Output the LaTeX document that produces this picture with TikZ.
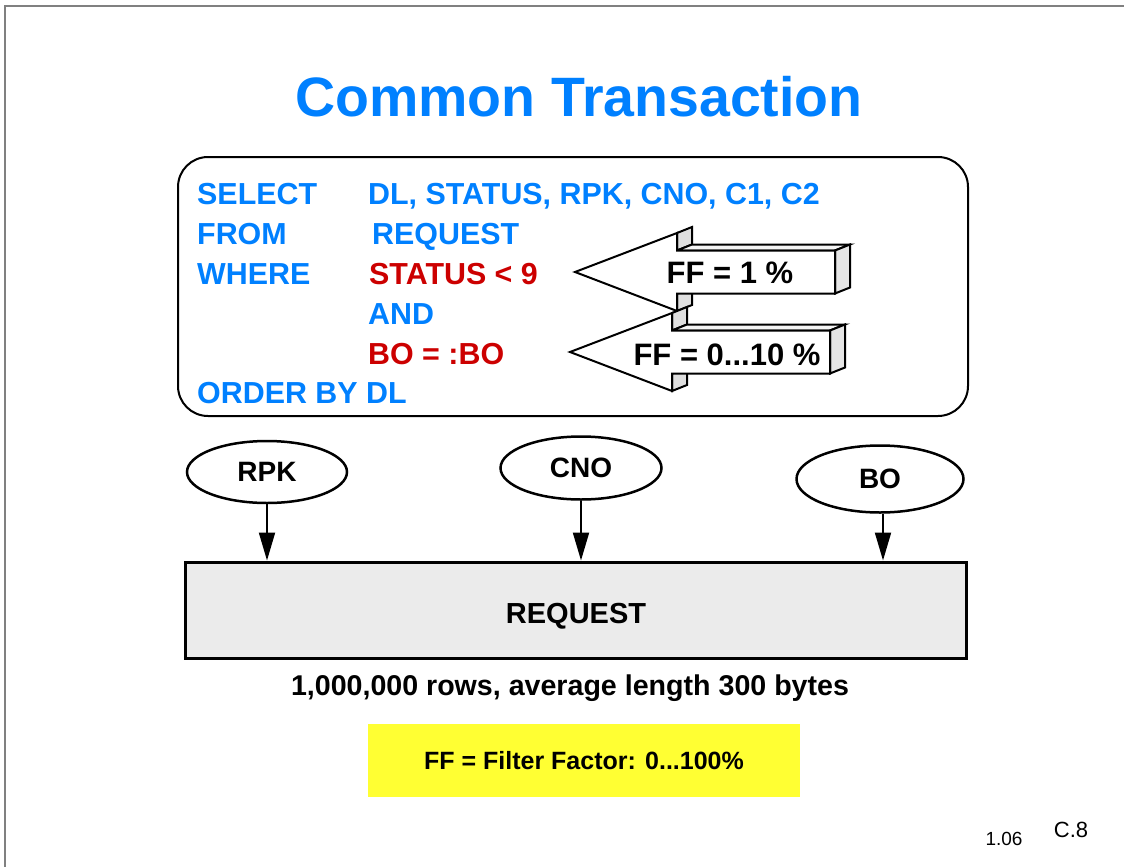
\documentclass[tikz,border=0pt]{standalone}
\usepackage{fontspec}
\setmainfont{Liberation Sans}
\usetikzlibrary{arrows.meta}
\usetikzlibrary{positioning}
\usetikzlibrary{shapes.geometric}

\definecolor{sqlblue}{RGB}{0,128,255}
\definecolor{sqlred}{RGB}{204,0,0}
\definecolor{tablegray}{RGB}{235,235,235}
\definecolor{notebg}{RGB}{255,255,51}

\tikzset{
  title/.style={text=sqlblue,font=\fontsize{55.5}{60}\selectfont\bfseries},
  sqlkw/.style={anchor=base west,inner sep=0pt,text=sqlblue,font=\fontsize{30.4}{34}\selectfont\bfseries},
  sqlcond/.style={sqlkw,text=sqlred},
  fflabel/.style={font=\fontsize{31}{34}\selectfont\bfseries},
  arrowface/.style={draw=black,line width=2pt,line join=miter},
  column/.style={ellipse,draw,line width=2.5pt,fill=white,inner sep=0pt,
    font=\fontsize{28}{30}\selectfont\bfseries},
  table/.style={draw,line width=3pt,fill=tablegray,inner sep=0pt,
    font=\fontsize{29}{32}\selectfont\bfseries},
  idxarrow/.style={line width=2pt,-{Triangle[length=28pt,width=16pt]}},
  caption/.style={font=\fontsize{28.6}{32}\selectfont\bfseries},
}

% 3D block arrow, tip at (#1,#2)
\newcommand{\ffarrow}[2]{%
  \filldraw[arrowface,fill=gray!25] ({#1+102},{#2-39}) -- ({#1+117},{#2-45})
    -- ({#1+117},{#2-27.5}) -- ({#1+102},{#2-21.5}) -- cycle;
  \filldraw[arrowface,fill=gray!25] ({#1+102},{#2+21.5}) -- ({#1+117},{#2+15.5})
    -- ({#1+117},{#2+33}) -- ({#1+102},{#2+39}) -- cycle;
  \filldraw[arrowface,fill=gray!8] ({#1+102},{#2-21.5}) -- ({#1+117},{#2-27.5})
    -- ({#1+275},{#2-27.5}) -- ({#1+260},{#2-21.5}) -- cycle;
  \filldraw[arrowface,fill=gray!20] ({#1+260},{#2-21.5}) -- ({#1+275},{#2-27.5})
    -- ({#1+275},{#2+15.5}) -- ({#1+260},{#2+21.5}) -- cycle;
  \filldraw[arrowface,fill=white] (#1,#2) -- ({#1+102},{#2-39}) -- ({#1+102},{#2-21.5})
    -- ({#1+260},{#2-21.5}) -- ({#1+260},{#2+21.5}) -- ({#1+102},{#2+21.5})
    -- ({#1+102},{#2+39}) -- cycle;
}

\begin{document}
\begin{tikzpicture}[x=1pt,y=-1pt]
  \useasboundingbox (0,0) rectangle (1124,867);
  \draw[gray,line width=2pt] (5,867) -- (5,6) -- (1124,6);

  \node[title] (title) at (579,97) {Common Transaction};

  % SQL statement
  \node[draw,line width=2pt,rounded corners=30pt,minimum width=790pt,
    minimum height=259pt] (sqlbox) at (573,286.5) {};
  \node[sqlkw] (select) at (197,204) {SELECT};
  \node[sqlkw] (from)   at (197,244) {FROM};
  \node[sqlkw] (where)  at (197,284) {WHERE};
  \node[sqlkw] (order)  at (197,403) {ORDER BY DL};
  \node[sqlkw]   (cols)   at (368,204) {DL, STATUS, RPK, CNO, C1, C2};
  \node[sqlkw]   (tab)    at (372,244) {REQUEST};
  \node[sqlcond] (pred1)  at (369,284) {STATUS < 9};
  \node[sqlkw]   (and)    at (368,324) {AND};
  \node[sqlcond] (pred2)  at (368,364) {BO = :BO};

  % filter factors
  \ffarrow{575}{272}
  \node[fflabel] (ff1) at (730,273) {FF = 1 \%};
  \ffarrow{570}{352}
  \node[fflabel] (ff2) at (727,355) {FF = 0...10 \%};

  % index columns and table
  \node[column,minimum width=160pt,minimum height=62pt] (rpk) at (267,472) {RPK};
  \node[column,minimum width=161pt,minimum height=63pt] (cno) at (581,468) {CNO};
  \node[column,minimum width=167pt,minimum height=67pt] (bo)  at (880,479) {BO};
  \node[table,minimum width=781pt,minimum height=96pt] (request) at (575.5,610) {};
  \node[font=\fontsize{29}{32}\selectfont\bfseries,anchor=base] (reqname) at (576,623) {REQUEST};

  \draw[idxarrow] (rpk.south) -- (rpk.south |- request.north);
  \draw[idxarrow] (cno.south) -- (cno.south |- request.north);
  \draw[idxarrow] ([xshift=3pt]bo.south) -- ([xshift=3pt]bo.south |- request.north);

  \node[caption] (rows) at (570,688) {1,000,000 rows, average length 300 bytes};

  \node[fill=notebg,minimum width=432pt,minimum height=73pt,
    font=\fontsize{25}{28}\selectfont\bfseries] (note) at (584,760.5) {FF = Filter Factor: 0...100\%};

  \node[font=\fontsize{19}{22}\selectfont] (ver)  at (1004,839) {1.06};
  \node[font=\fontsize{22}{25}\selectfont] (page) at (1071,830) {C.8};
\end{tikzpicture}
\end{document}
